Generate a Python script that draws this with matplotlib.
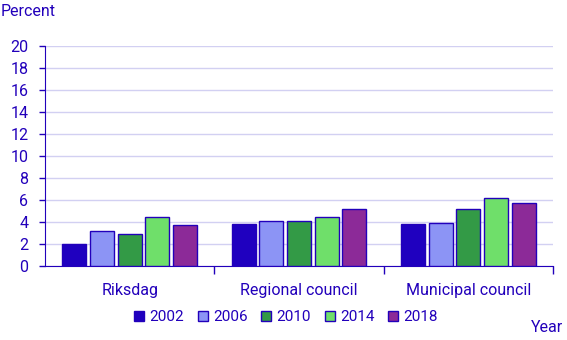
import matplotlib

matplotlib.use("Agg")
import matplotlib.pyplot as plt
import numpy as np

plt.rcParams["font.family"] = ["Roboto", "DejaVu Sans"]

categories = ["Riksdag", "Regional council", "Municipal council"]
years = ["2002", "2006", "2010", "2014", "2018"]
values = {
    "2002": [2.0, 3.8, 3.8],
    "2006": [3.2, 4.1, 3.9],
    "2010": [2.9, 4.1, 5.2],
    "2014": [4.5, 4.5, 6.2],
    "2018": [3.7, 5.2, 5.7],
}
colors = ["#1f00bf", "#8c94f5", "#339a46", "#6fdf6a", "#8c2a98"]
ink = "#2200bb"
grid_color = "#d2d0f2"
fs = 11.5

fig = plt.figure(figsize=(5.67, 3.4), dpi=100)
ax = fig.add_axes([45 / 567, 74 / 340, 508 / 567, 220 / 340])

x = np.arange(len(categories))
width = 0.142
pitch = 0.163
for i, year in enumerate(years):
    offset = (i - 2) * pitch
    ax.bar(x + offset, values[year], width, color=colors[i],
           edgecolor=ink, linewidth=1.0, label=year, zorder=3)

ax.set_xlim(-0.5, 2.5)
ax.set_ylim(0, 20)
ax.set_yticks(range(0, 21, 2))
ax.yaxis.grid(True, color=grid_color, linewidth=1.0, zorder=0)
ax.tick_params(axis="y", colors=ink, labelcolor=ink, labelsize=fs,
               length=4, width=1, pad=8)

# category labels sit between separator ticks at the group edges
ax.set_xticks([0.5, 1.5, 2.5])
ax.set_xticklabels([])
ax.tick_params(axis="x", colors=ink, length=6, width=1)
for xi, name in zip(x, categories):
    ax.text(xi, -2.25, name, ha="center", va="center", color=ink,
            fontsize=fs)

for side in ["top", "right"]:
    ax.spines[side].set_visible(False)
ax.spines["left"].set_color(ink)
ax.spines["bottom"].set_color(ink)

fig.text(1 / 567, 1 - 12 / 340, "Percent", color=ink, fontsize=fs,
         va="center", ha="left")
fig.text(563 / 567, 1 - 327 / 340, "Year", color=ink, fontsize=fs,
         va="center", ha="right")

leg = fig.legend(loc="center", bbox_to_anchor=(286 / 567, 1 - 317 / 340),
                 ncol=5, frameon=False, fontsize=11, handlelength=0.65,
                 handleheight=0.65, handletextpad=0.35, columnspacing=0.9)
for t in leg.get_texts():
    t.set_color(ink)

fig.savefig("out.png", dpi=100)
